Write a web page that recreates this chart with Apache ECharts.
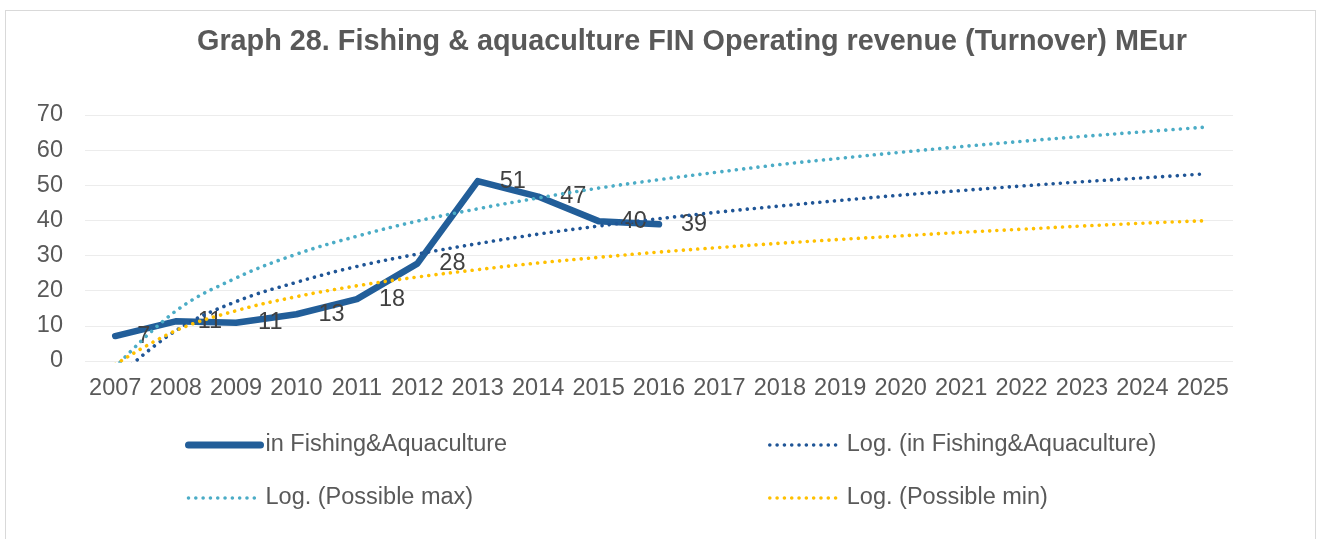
<!DOCTYPE html>
<html>
<head>
<meta charset="utf-8">
<title>Graph 28</title>
<script src="https://cdn.jsdelivr.net/npm/echarts@6/dist/echarts.min.js"></script>
<style>
  html, body { margin: 0; padding: 0; background: #ffffff; }
  #frame {
    position: absolute; left: 5px; top: 10px; right: 6px; bottom: -20px;
    border: 1px solid #d9d9d9;
  }
  #chart { position: absolute; left: 0; top: 0; width: 1322px; height: 539px; }
</style>
</head>
<body>
<div id="frame"></div>
<div id="chart"></div>
<script>
// values
const years = ["2007", "2008", "2009", "2010", "2011", "2012", "2013", "2014", "2015", "2016",
  "2017", "2018", "2019", "2020", "2021", "2022", "2023", "2024", "2025"];
const turnover = [7.1, 11.3, 10.9, 13.3, 17.6, 27.7, 51.2, 46.8, 39.8, 38.9];
// trendlines start just under zero at 2007, the chart clips them at the axis
const logTurnover = [-5.1, 8.6, 16.9, 22.4, 26.9, 30.4, 33.4, 36.1, 38.4, 40.5,
  42.4, 44.1, 45.7, 47.2, 48.5, 49.8, 51.0, 52.1, 53.2];
const logMax = [-1.8, 14.2, 23.6, 30.4, 35.5, 39.8, 43.3, 46.4, 49.2, 51.6,
  53.8, 55.9, 57.7, 59.4, 61.0, 62.5, 63.9, 65.2, 66.5];
const logMin = [-1.0, 8.6, 14.3, 18.3, 21.4, 23.9, 26.0, 27.9, 29.5, 31.0,
  32.3, 33.5, 34.6, 35.6, 36.6, 37.5, 38.4, 39.2, 39.9];

const FONT = "'Liberation Sans', Arial, sans-serif";
const GREY = "#595959";
const MAIN_COLOR = "#225e99";
const dotted = (color) => ({ width: 3.6, color: color, type: [0.01, 7.3], cap: "round" });
const legendText = { color: GREY, fontFamily: FONT, fontSize: 23.5, lineHeight: 26 };

const chart = echarts.init(document.getElementById("chart"));

chart.setOption({
  animation: false,
  backgroundColor: "transparent",
  title: {
    text: "Graph 28. Fishing & aquaculture FIN Operating revenue (Turnover) MEur",
    left: 192,
    top: 21,
    textStyle: { color: GREY, fontFamily: FONT, fontSize: 28.8, fontWeight: "bold", lineHeight: 32 },
  },
  grid: { left: 85, right: 89, top: 115, bottom: 178, containLabel: false },
  legend: [
    {
      orient: "vertical",
      left: 185,
      top: 432,
      padding: 0,
      itemWidth: 72,
      itemHeight: 14,
      itemGap: 27,
      itemStyle: { opacity: 0 },
      textStyle: legendText,
      data: [
        { name: "in Fishing&Aquaculture", lineStyle: { width: 7, color: MAIN_COLOR, cap: "round" } },
        { name: "Log. (Possible max)", lineStyle: dotted("#4bacc6") },
      ],
    },
    {
      orient: "vertical",
      left: 768,
      top: 432,
      padding: 0,
      itemWidth: 72,
      itemHeight: 14,
      itemGap: 27,
      itemStyle: { opacity: 0 },
      textStyle: legendText,
      data: [
        { name: "Log. (in Fishing&Aquaculture)", lineStyle: dotted("#1f5596") },
        { name: "Log. (Possible min)", lineStyle: dotted("#ffc000") },
      ],
    },
  ],
  xAxis: {
    type: "category",
    data: years,
    boundaryGap: true,
    axisLine: { show: false },
    axisTick: { show: false },
    axisLabel: { color: GREY, fontFamily: FONT, fontSize: 23.5, margin: 16, interval: 0 },
  },
  yAxis: {
    type: "value",
    min: 0,
    max: 70,
    interval: 10,
    axisLine: { show: false },
    axisTick: { show: false },
    axisLabel: { color: GREY, fontFamily: FONT, fontSize: 23.5, margin: 22 },
    splitLine: { lineStyle: { color: "#ececec", width: 1 } },
  },
  series: [
    {
      name: "in Fishing&Aquaculture",
      type: "line",
      data: turnover,
      symbol: "circle",
      symbolSize: 0.1,
      lineStyle: { width: 6.5, color: MAIN_COLOR, cap: "round", join: "round" },
      itemStyle: { color: MAIN_COLOR },
      label: {
        show: true,
        position: "right",
        distance: 22,
        color: "#404040",
        fontFamily: FONT,
        fontSize: 23.5,
        formatter: (p) => Math.round(p.value),
      },
      z: 2,
    },
    {
      name: "Log. (in Fishing&Aquaculture)",
      type: "line",
      data: logTurnover,
      symbol: "none",
      smooth: 0.4,
      lineStyle: dotted("#1f5596"),
      itemStyle: { color: "#1f5596" },
      z: 3,
    },
    {
      name: "Log. (Possible max)",
      type: "line",
      data: logMax,
      symbol: "none",
      smooth: 0.4,
      lineStyle: dotted("#4bacc6"),
      itemStyle: { color: "#4bacc6" },
      z: 3,
    },
    {
      name: "Log. (Possible min)",
      type: "line",
      data: logMin,
      symbol: "none",
      smooth: 0.4,
      lineStyle: dotted("#ffc000"),
      itemStyle: { color: "#ffc000" },
      z: 3,
    },
  ],
});

window.addEventListener("resize", () => chart.resize());
</script>
</body>
</html>
